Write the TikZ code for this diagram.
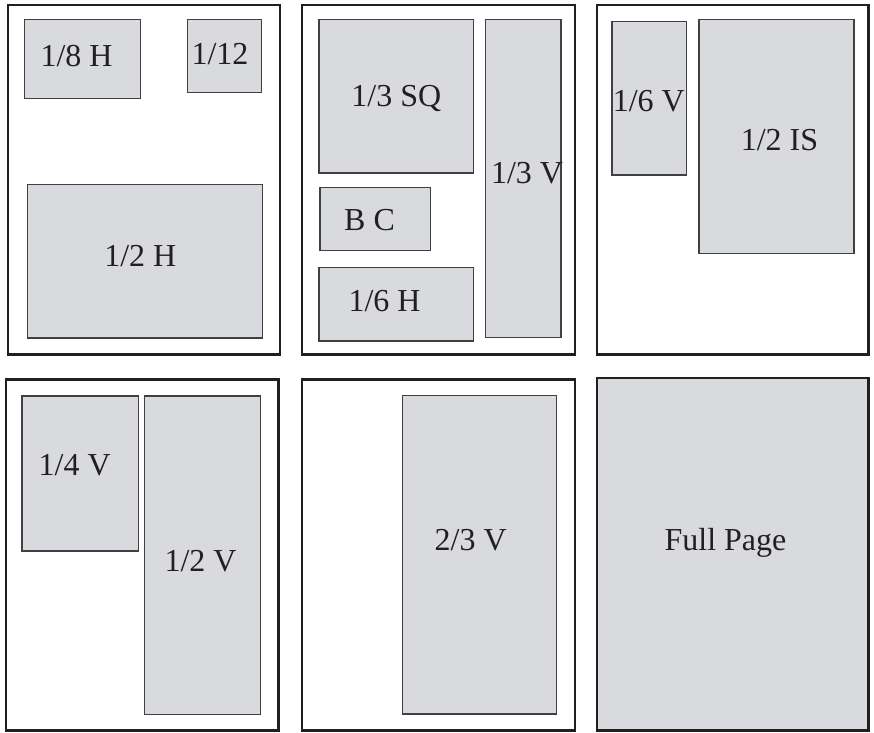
\documentclass[tikz,border=0pt]{standalone}
\usepackage{fontspec}
\setmainfont{Liberation Serif}
\usepackage{tikz}
\definecolor{AdGray}{RGB}{217,218,221}
\definecolor{FrameInk}{RGB}{35,31,32}
\definecolor{AdInk}{RGB}{64,64,66}

\begin{document}
\begin{tikzpicture}[
    x=1pt, y=-1pt,
    page/.style={draw=FrameInk, line width=2.4pt},
    ad/.style={draw=AdInk, line width=1.1pt, fill=AdGray},
    fullad/.style={draw=FrameInk, line width=2.4pt, fill=AdGray},
    adlabel/.style={anchor=base, inner sep=0pt, text=FrameInk, font=\fontsize{32}{38}\selectfont}
]
\useasboundingbox (0,0) rectangle (874,732);

% top row
\draw[page] (8.2,5) rectangle (279.7,354.3);
\draw[ad] (24.3,19.3) rectangle (140.3,98.3);
\draw[ad] (187.3,19.3) rectangle (261.3,92.7);
\draw[ad] (27.7,184.3) rectangle (262.3,338);
\node[adlabel] (eighth) at (76.5,66.7) {1/8 H};
\node[adlabel] (twelfth) at (220,64) {1/12};
\node[adlabel] (halfh) at (140.3,266.7) {1/2 H};

\draw[page] (302.2,5) rectangle (574.7,354.3);
\draw[ad] (319,19.3) rectangle (473.3,173);
\draw[ad] (485.7,19.3) rectangle (561,337.7);
\draw[ad] (320,187.7) rectangle (430.7,250.3);
\draw[ad] (319,267.7) rectangle (473.3,341);
\node[adlabel] (thirdsq) at (396.3,106.7) {1/3 SQ};
\node[adlabel] (thirdv) at (527,183.3) {1/3 V};
\node[adlabel] (bcard) at (369.5,230) {B C};
\node[adlabel] (sixthh) at (384.5,311.7) {1/6 H};

\draw[page] (597.2,5) rectangle (868.5,354.3);
\draw[ad] (612,21.7) rectangle (686.3,175);
\draw[ad] (699,19.3) rectangle (854,253.3);
\node[adlabel] (sixthv) at (648.8,111.7) {1/6 V};
\node[adlabel] (halfis) at (779.5,150.7) {1/2 IS};

% bottom row
\draw[page] (6,379.5) rectangle (278.3,730.5);
\draw[ad] (22,396) rectangle (138.3,551);
\draw[ad] (144.3,396) rectangle (260.7,714.3);
\node[adlabel] (quarterv) at (74.7,475.7) {1/4 V};
\node[adlabel] (halfv) at (200.5,571.7) {1/2 V};

\draw[page] (302.2,379.5) rectangle (574.8,730.5);
\draw[ad] (402.3,395.7) rectangle (556.7,714);
\node[adlabel] (twothirdv) at (470.7,550) {2/3 V};

\draw[fullad] (597.2,377.8) rectangle (868.3,730.5);
\node[adlabel] (fullpage) at (725.5,550) {Full Page};
\end{tikzpicture}
\end{document}
